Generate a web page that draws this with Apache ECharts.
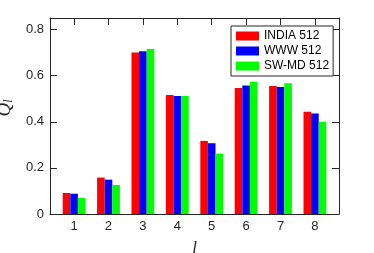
<!DOCTYPE html>
<html>
<head>
<meta charset="utf-8">
<script src="https://cdn.jsdelivr.net/npm/echarts@6/dist/echarts.min.js"></script>
<style>html,body{margin:0;padding:0;background:#fff;}#c{width:374px;height:253px;}</style>
</head>
<body>
<div id="c"></div>
<script>
var categories = [1, 2, 3, 4, 5, 6, 7, 8];
var seriesNames = ['INDIA 512', 'WWW 512', 'SW-MD 512'];
var india = [0.091, 0.158, 0.700, 0.516, 0.317, 0.546, 0.555, 0.443];
var www   = [0.088, 0.149, 0.706, 0.512, 0.307, 0.557, 0.551, 0.436];
var swmd  = [0.070, 0.126, 0.716, 0.512, 0.262, 0.574, 0.567, 0.400];
var yTicks = [0, 0.2, 0.4, 0.6, 0.8];
var colors = ['#ff0000', '#0000ff', '#00ff00'];

var ink = '#262626';
function pairs(vals) { return categories.map(function (c, i) { return [c, vals[i]]; }); }

var chart = echarts.init(document.getElementById('c'), null, {renderer: 'canvas'});
var font = 'Liberation Sans';
function xAx(pos, labels) {
  return {
    type: 'value', position: pos, min: 0.3, max: 8.7,
    axisLine: {show: true, onZero: false, lineStyle: {color: ink, width: 1}},
    axisTick: {show: true, inside: true, length: 7, customValues: categories, lineStyle: {color: ink}},
    axisLabel: {show: labels, customValues: categories, color: ink, fontSize: 13, fontFamily: font, margin: 6},
    splitLine: {show: false},
    name: labels ? '{i|l}' : '', nameLocation: 'middle', nameGap: 26,
    nameTextStyle: {rich: {i: {fontStyle: 'italic', fontFamily: 'Liberation Serif', fontSize: 17, color: ink}}}
  };
}
function yAx(pos, labels) {
  return {
    type: 'value', position: pos, min: 0, max: 0.85,
    axisLine: {show: true, onZero: false, lineStyle: {color: ink, width: 1}},
    axisTick: {show: true, inside: true, length: 7, customValues: yTicks, lineStyle: {color: ink}},
    axisLabel: {show: labels, customValues: yTicks, color: ink, fontSize: 13, fontFamily: font, margin: 6},
    splitLine: {show: false},
    name: labels ? '{q|Q}{s|l}' : '', nameLocation: 'middle', nameGap: 28,
    nameTextStyle: {
      padding: [0, 0, 0, 16],
      rich: {
        q: {fontStyle: 'italic', fontFamily: 'Liberation Serif', fontSize: 19, color: ink},
        s: {fontStyle: 'italic', fontFamily: 'Liberation Serif', fontSize: 12, color: ink, padding: [9, 0, 0, 0]}
      }
    }
  };
}
var data = [india, www, swmd];
chart.setOption({
  animation: false,
  backgroundColor: '#fff',
  grid: {left: 50, top: 18, right: 35, bottom: 39, containLabel: false, outerBoundsMode: 'none'},
  xAxis: [xAx('bottom', true), xAx('top', false)],
  yAxis: [yAx('left', true), yAx('right', false)],
  legend: {
    orient: 'vertical', left: 231, top: 26,
    data: seriesNames,
    icon: 'rect', itemWidth: 23, itemHeight: 9, itemGap: 3,
    padding: [4, 4, 4, 5],
    backgroundColor: '#fff', borderColor: ink, borderWidth: 1,
    textStyle: {fontSize: 12, fontFamily: font, color: '#000', lineHeight: 12}
  },
  series: seriesNames.map(function (n, k) {
    return {
      name: n, type: 'bar', xAxisIndex: 0, yAxisIndex: 0,
      data: pairs(data[k]), barWidth: 7.6, barGap: '0%',
      itemStyle: {color: colors[k]}
    };
  })
});
</script>
</body>
</html>
